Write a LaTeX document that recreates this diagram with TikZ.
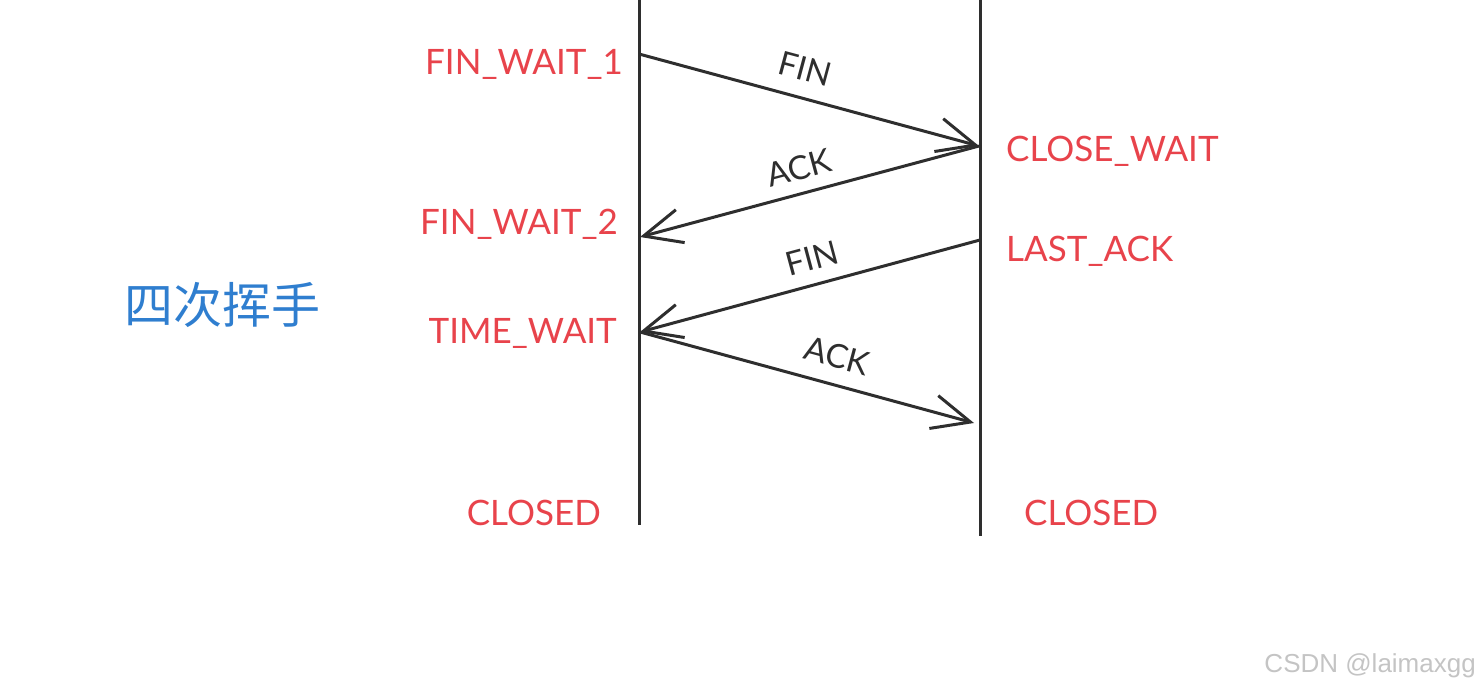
\documentclass[tikz,border=0pt]{standalone}
\usepackage{fontspec}
\setmainfont{Lato}
\newfontfamily\cjk{Noto Sans CJK SC}
\newfontfamily\wmfont{Liberation Sans}
\usetikzlibrary{arrows.meta}
\definecolor{statered}{HTML}{E8434B}
\definecolor{msggray}{HTML}{2E2E2E}
\definecolor{titleblue}{HTML}{2F7ECF}
\definecolor{wmgray}{HTML}{C4C4C4}
\tikzset{
  lifeline/.style={line width=3pt, msggray},
  msg/.style={line width=3pt, msggray, -{Straight Barb[length=38pt,width=34pt,line width=3pt]}},
  statel/.style={font=\fontsize{35}{40}\selectfont, text=statered, anchor=east, inner sep=0pt},
  stater/.style={font=\fontsize{35}{40}\selectfont, text=statered, anchor=west, inner sep=0pt},
  msglabel/.style={font=\fontsize{33}{37}\selectfont, text=msggray, inner sep=0pt}
}
\begin{document}
\begin{tikzpicture}[x=1pt,y=-1pt]
\useasboundingbox (0,0) rectangle (1479,692);
% lifelines
\coordinate (ltop) at (639,0);
\coordinate (lbot) at (639,525);
\coordinate (rtop) at (980,0);
\coordinate (rbot) at (980,536);
\draw[lifeline] (ltop) -- (lbot);
\draw[lifeline] (rtop) -- (rbot);
% message endpoints
\coordinate (f1s) at (639,54);
\coordinate (f1e) at (979,146);
\coordinate (a1e) at (640,237);
\coordinate (f2s) at (980,240);
\coordinate (f2e) at (640,332);
\coordinate (a2e) at (974,423);
\draw[msg] (f1s) -- (f1e);
\draw[msg] (f1e) -- (a1e);
\draw[msg] (f2s) -- (f2e);
\draw[msg] (f2e) -- (a2e);
% message labels
\node[msglabel, rotate=-15] (lf1) at (805,69) {FIN};
\node[msglabel, rotate=15] (la1) at (799,168) {ACK};
\node[msglabel, rotate=15] (lf2) at (812,258) {FIN};
\node[msglabel, rotate=-15] (la2) at (837,356) {ACK};
% states
\node[statel] (s1) at (623,64) {FIN\_WAIT\_1};
\node[stater] (s2) at (1006,151) {CLOSE\_WAIT};
\node[statel] (s3) at (618,224) {FIN\_WAIT\_2};
\node[stater] (s4) at (1006,251) {LAST\_ACK};
\node[statel] (s5) at (617,333) {TIME\_WAIT};
\node[statel] (s6) at (601,513) {CLOSED};
\node[stater] (s7) at (1024,513) {CLOSED};
% title
\node[font=\cjk\fontsize{49}{53}\selectfont, text=titleblue, inner sep=0pt] (title) at (222,305) {四次挥手};
% watermark
\node[font=\wmfont\fontsize{26}{30}\selectfont, text=wmgray, anchor=east, inner sep=0pt] (wm) at (1476,666) {CSDN @laimaxgg};
\end{tikzpicture}
\end{document}
